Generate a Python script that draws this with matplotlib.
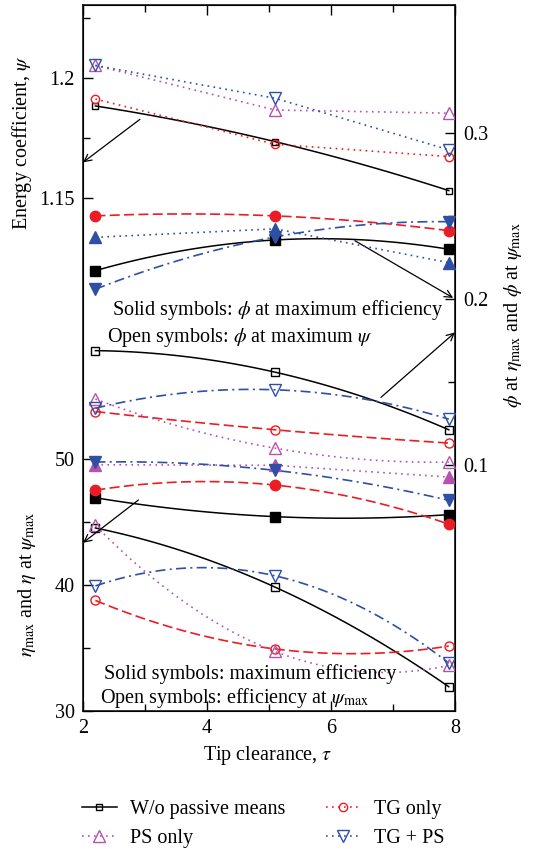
import numpy as np
import matplotlib
matplotlib.use("Agg")
import matplotlib.pyplot as plt
from matplotlib.ticker import FixedLocator, FixedFormatter

plt.rcParams['font.family'] = ['Liberation Serif', 'DejaVu Serif']
plt.rcParams['mathtext.fontset'] = 'stix'
plt.rcParams['font.size'] = 14.5

#%% data
tau = [2.2, 5.1, 7.9]

# energy coefficient psi_max (open symbols, left upper axis)
psi_wo = [1.1882, 1.1733, 1.1529]
psi_tg = [1.1911, 1.1722, 1.1671]
psi_ps = [1.2051, 1.1865, 1.1852]
psi_tgps = [1.2051, 1.1914, 1.1699]

# phi at maximum efficiency (solid symbols, right axis)
phi_eta_wo = [0.2172, 0.2357, 0.2301]
phi_eta_tg = [0.2502, 0.2502, 0.2413]
phi_eta_ps = [0.2373, 0.2424, 0.2220]
phi_eta_tgps = [0.2060, 0.2375, 0.2467]

# phi at maximum psi (open symbols, right axis)
phi_psi_wo = [0.1690, 0.1560, 0.1213]
phi_psi_tg = [0.1323, 0.1213, 0.1133]
phi_psi_ps = [0.1398, 0.1102, 0.1018]
phi_psi_tgps = [0.1343, 0.1454, 0.1277]

# maximum efficiency (solid) and efficiency at psi_max (open), left lower axis
eta_max_wo = [46.9, 45.4, 45.56]
eta_max_tg = [47.5, 47.9, 44.8]
eta_max_ps = [49.52, 49.47, 48.54]
eta_max_tgps = [49.73, 49.07, 46.69]

eta_psi_wo = [44.5, 39.8, 31.9]
eta_psi_tg = [38.75, 34.9, 35.13]
eta_psi_ps = [44.7, 34.7, 33.6]
eta_psi_tgps = [39.9, 40.7, 33.78]

labels = ['W/o passive means', 'PS only', 'TG only', 'TG + PS']

#%% styles
BLACK = 'black'
RED = '#ec1c24'
MAG = '#b452b0'
BLUE = '#2e4fa3'
SOLID = '-'
DOT = (0, (1, 2.6))
DASH = (0, (6, 2.6))
DASHDOT = (0, (6, 2.6, 1.2, 2.6))


def draw(axis, y, color, ls, marker, filled, ms, fit='quad'):
    if fit == 'quad':
        coef = np.polyfit(tau, y, 2)
        xs = np.linspace(tau[0], tau[-1], 120)
        ys = np.polyval(coef, xs)
    else:
        xs, ys = tau, y
    lw = 1.1 if ls == SOLID else 1.2
    axis.plot(xs, ys, color=color, ls=ls, lw=lw, zorder=2)
    axis.plot(tau, y, ls='none', marker=marker, ms=ms, mec=color,
              mfc=color if filled else 'none', mew=1.0, zorder=3)


fig = plt.figure(figsize=(5.38, 8.49), dpi=100)
rect = [0.1543, 0.1629, 0.6914, 0.8312]

ax = fig.add_axes(rect)
ax.set_xlim(2, 8)
ax.set_ylim(0.936, 1.2303)
ax.xaxis.set_major_locator(FixedLocator([2, 4, 6, 8]))
ax.xaxis.set_minor_locator(FixedLocator([3, 5, 7]))
ax.yaxis.set_major_locator(FixedLocator([1.15, 1.2]))
ax.yaxis.set_major_formatter(FixedFormatter(['1.15', '1.2']))
ax.yaxis.set_minor_locator(FixedLocator([1.175, 1.225]))
ax.tick_params(which='both', direction='in', top=True, right=False, labelsize=14.5, pad=6)
ax.tick_params(which='major', length=7, width=1)
ax.tick_params(which='minor', length=5, width=1)
for s in ax.spines.values():
    s.set_linewidth(1.1)

ax_eta = fig.add_axes(rect, sharex=ax)
ax_eta.patch.set_visible(False)
for s in ax_eta.spines.values():
    s.set_visible(False)
ax_eta.set_ylim(30, 86)
ax_eta.yaxis.set_major_locator(FixedLocator([30, 40, 50]))
ax_eta.yaxis.set_minor_locator(FixedLocator([35, 45]))
ax_eta.tick_params(axis='x', which='both', bottom=False, top=False, labelbottom=False)
ax_eta.tick_params(axis='y', which='both', direction='in', labelsize=14.5, pad=6)
ax_eta.tick_params(which='major', length=7, width=1)
ax_eta.tick_params(which='minor', length=5, width=1)

ax_phi = ax.twinx()
ax_phi.set_ylim(-0.048, 0.3773)
ax_phi.yaxis.set_major_locator(FixedLocator([0.1, 0.2, 0.3]))
ax_phi.yaxis.set_major_formatter(FixedFormatter(['0.1', '0.2', '0.3']))
ax_phi.yaxis.set_minor_locator(FixedLocator([0.15, 0.25]))
ax_phi.tick_params(which='both', direction='in', labelsize=14.5, pad=6)
ax_phi.tick_params(which='major', length=7, width=1)
ax_phi.tick_params(which='minor', length=5, width=1)

#%% psi (open)
draw(ax, psi_wo, BLACK, SOLID, 's', False, 5)
draw(ax, psi_tg, RED, DOT, 'o', False, 6, fit='lin')
draw(ax, psi_ps, MAG, DOT, '^', False, 8, fit='lin')
draw(ax, psi_tgps, BLUE, DOT, 'v', False, 8, fit='lin')

#%% phi (solid: at eta_max, open: at psi_max)
draw(ax_phi, phi_eta_wo, BLACK, SOLID, 's', True, 6.5)
draw(ax_phi, phi_eta_tg, RED, DASH, 'o', True, 7.5)
draw(ax_phi, phi_eta_ps, BLUE, DOT, '^', True, 8.5, fit='lin')
draw(ax_phi, phi_eta_tgps, BLUE, DASHDOT, 'v', True, 8.5)

draw(ax_phi, phi_psi_wo, BLACK, SOLID, 's', False, 5.5)
draw(ax_phi, phi_psi_tg, RED, DASH, 'o', False, 6.5)
draw(ax_phi, phi_psi_ps, MAG, DOT, '^', False, 8)
draw(ax_phi, phi_psi_tgps, BLUE, DASHDOT, 'v', False, 8)

#%% eta (solid: max, open: at psi_max)
draw(ax_eta, eta_max_wo, BLACK, SOLID, 's', True, 6.5)
draw(ax_eta, eta_max_tg, RED, DASH, 'o', True, 7.5)
draw(ax_eta, eta_max_ps, MAG, DOT, '^', True, 8.5, fit='lin')
draw(ax_eta, eta_max_tgps, BLUE, DASHDOT, 'v', True, 8.5)

draw(ax_eta, eta_psi_wo, BLACK, SOLID, 's', False, 5.5)
draw(ax_eta, eta_psi_tg, RED, DASH, 'o', False, 6.5)
draw(ax_eta, eta_psi_ps, MAG, DOT, '^', False, 8)
draw(ax_eta, eta_psi_tgps, BLUE, DASHDOT, 'v', False, 8)

#%% arrows pointing at the relevant axis
arrow = dict(arrowstyle='->', lw=0.9, color='black', shrinkA=0, shrinkB=0, mutation_scale=13)
ax_eta.annotate('', xy=(0.0, 0.777), xytext=(0.153, 0.838), xycoords='axes fraction', arrowprops=arrow)
ax_eta.annotate('', xy=(0.995, 0.585), xytext=(0.731, 0.666), xycoords='axes fraction', arrowprops=arrow)
ax_eta.annotate('', xy=(1.0, 0.536), xytext=(0.801, 0.444), xycoords='axes fraction', arrowprops=arrow)
ax_eta.annotate('', xy=(0.0, 0.238), xytext=(0.149, 0.2986), xycoords='axes fraction', arrowprops=arrow)

#%% notes
ax_eta.text(0.077, 0.5607, r'Solid symbols: $\phi$ at maximum efficiency', transform=ax_eta.transAxes,
            ha='left', va='baseline')
ax_eta.text(0.064, 0.522, r'Open symbols: $\phi$ at maximum $\psi$', transform=ax_eta.transAxes,
            ha='left', va='baseline')
ax_eta.text(0.057, 0.0445, 'Solid symbols: maximum efficiency', transform=ax_eta.transAxes,
            ha='left', va='baseline')
ax_eta.text(0.046, 0.0113, r'Open symbols: efficiency at $\psi_{\rm max}$', transform=ax_eta.transAxes,
            ha='left', va='baseline')

#%% axis labels
fig.text(0.041, 0.8316, r'Energy coefficient, $\psi$', rotation=90, ha='center', va='center')
fig.text(0.050, 0.312, r'$\eta_{\rm max}$ and $\eta$ at $\psi_{\rm max}$', rotation=90,
         ha='center', va='center')
fig.text(0.953, 0.629, r'$\phi$ at $\eta_{\rm max}$ and $\phi$ at $\psi_{\rm max}$', rotation=90,
         ha='center', va='center')
fig.text(0.498, 0.110, r'Tip clearance, $\tau$', ha='center', va='center')

#%% legend
handles = [
    plt.Line2D([], [], color=BLACK, ls=SOLID, lw=1.1, marker='s', ms=5, mfc='none'),
    plt.Line2D([], [], color=MAG, ls=DOT, lw=1.2, marker='^', ms=8, mfc='none'),
    plt.Line2D([], [], color=RED, ls=DOT, lw=1.2, marker='o', ms=6, mfc='none'),
    plt.Line2D([], [], color=BLUE, ls=DOT, lw=1.2, marker='v', ms=8, mfc='none'),
]
fig.legend(handles, labels, ncol=2, loc='upper left', bbox_to_anchor=(0.152, 0.058),
           frameon=False, handlelength=1.75, handletextpad=0.65,
           columnspacing=2.0, labelspacing=0.5, borderpad=0, borderaxespad=0)

fig.savefig('out.png', dpi=100)
